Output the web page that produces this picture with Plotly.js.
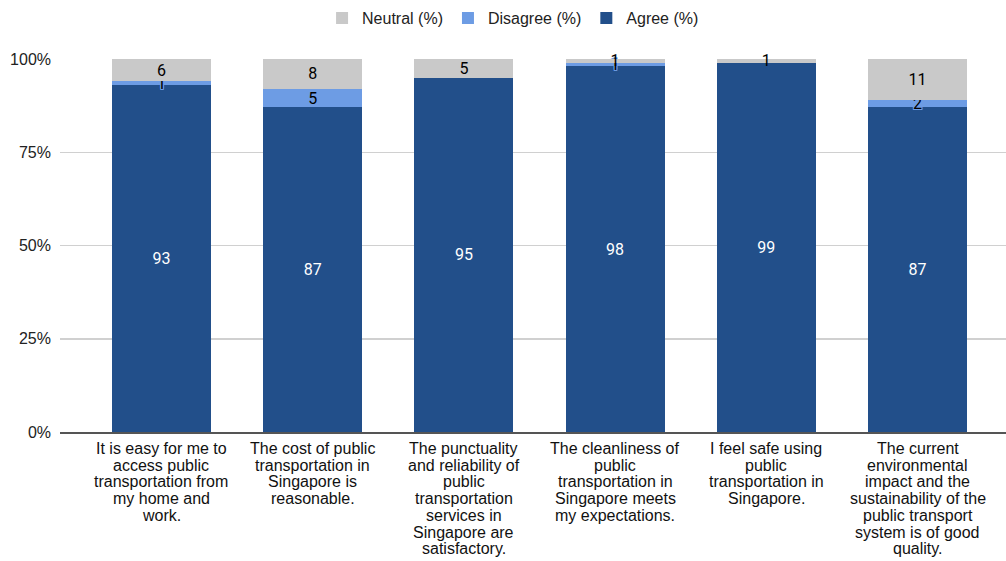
<!DOCTYPE html>
<html>
<head>
<meta charset="utf-8">
<script src="https://cdn.plot.ly/plotly-3.0.1.min.js"></script>
<style>html,body{margin:0;padding:0;background:#fff;}#chart{width:1006px;height:561px;}</style>
</head>
<body>
<div id="chart"></div>
<script>
var categories = [
  "It is easy for me to<br>access public<br>transportation from<br>my home and<br>work.",
  "The cost of public<br>transportation in<br>Singapore is<br>reasonable.",
  "The punctuality<br>and reliability of<br>public<br>transportation<br>services in<br>Singapore are<br>satisfactory.",
  "The cleanliness of<br>public<br>transportation in<br>Singapore meets<br>my expectations.",
  "I feel safe using<br>public<br>transportation in<br>Singapore.",
  "The current<br>environmental<br>impact and the<br>sustainability of the<br>public transport<br>system is of good<br>quality."
];
var agree = [93, 87, 95, 98, 99, 87];
var disagree = [1, 5, 0, 1, 0, 2];
var neutral = [6, 8, 5, 1, 1, 11];
var yTickVals = [0, 25, 50, 75, 100];
var yTickText = ['0%', '25%', '50%', '75%', '100%'];

var labelFamily = "Roboto, 'Liberation Sans', Arial, sans-serif";

function halo(c) {
  return '1px 1px 0 ' + c + ', -1px -1px 0 ' + c + ', 1px -1px 0 ' + c + ', -1px 1px 0 ' + c +
         ', 0 1px 0 ' + c + ', 0 -1px 0 ' + c + ', 1px 0 0 ' + c + ', -1px 0 0 ' + c;
}

function mk(name, vals, color, textColor, shadow) {
  return {
    type: 'bar', name: name, x: categories, y: vals,
    text: vals.map(String), textposition: 'inside', insidetextanchor: 'middle',
    constraintext: 'none', textangle: 0, cliponaxis: false,
    textfont: {color: textColor, family: labelFamily, size: 16, shadow: shadow},
    marker: {color: color}, hoverinfo: 'skip'
  };
}

var data = [
  mk('Agree (%)', agree, '#224f8a', '#ffffff', 'none'),
  mk('Disagree (%)', disagree, '#6d9ce4', '#000000', halo('#6d9ce4')),
  mk('Neutral (%)', neutral, '#c9c9c9', '#000000', 'none')
];

// x tick labels drawn line by line (tight line spacing as in the reference)
var annotations = [];
categories.forEach(function (cat) {
  cat.split('<br>').forEach(function (line, i) {
    annotations.push({
      xref: 'x', yref: 'paper', x: cat, y: 0, yanchor: 'top', xanchor: 'center',
      yshift: -(6 + i * 16.7), text: line, showarrow: false,
      font: {size: 16, color: '#111', family: "'Liberation Sans', Arial, sans-serif"}
    });
  });
});

var layout = {
  width: 1006, height: 561,
  margin: {l: 60, r: 0, t: 59, b: 129},
  barmode: 'stack', bargap: 0.345,
  font: {family: "'Liberation Sans', Arial, sans-serif", color: '#222'},
  showlegend: true,
  legend: {orientation: 'h', traceorder: 'reversed', xref: 'container', yref: 'container',
           x: 0.51, xanchor: 'center', y: 0.998, yanchor: 'top',
           font: {size: 16, color: '#222'}, itemwidth: 30},
  xaxis: {type: 'category', range: [-0.671, 5.585], showticklabels: false,
          showgrid: false, ticks: '', showline: true, linecolor: '#555', linewidth: 1.5,
          automargin: false},
  yaxis: {range: [0, 100], tickvals: yTickVals, ticktext: yTickText,
          tickfont: {size: 16, color: '#222'}, gridcolor: '#d0d0d0', gridwidth: 1.5,
          zeroline: false, ticks: '', ticklabelstandoff: 8, automargin: false},
  annotations: annotations,
  plot_bgcolor: '#fff', paper_bgcolor: '#fff'
};

Plotly.newPlot('chart', data, layout, {displayModeBar: false, staticPlot: true});
</script>
</body>
</html>
